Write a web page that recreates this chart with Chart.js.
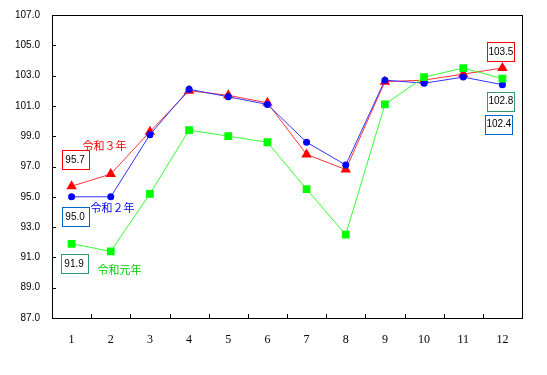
<!DOCTYPE html>
<html>
<head>
<meta charset="utf-8">
<script src="https://cdn.jsdelivr.net/npm/chart.js@4"></script>
<style>
  html, body { margin: 0; padding: 0; background: #fff; }
  #wrap { width: 547px; height: 375px; }
</style>
</head>
<body>
<div id="wrap"><canvas id="chart" width="547" height="375"></canvas></div>
<script>
// Monthly index values
const months = ['1', '2', '3', '4', '5', '6', '7', '8', '9', '10', '11', '12'];
const reiwa3 = [95.7, 96.5, 99.3, 102.0, 101.7, 101.2, 97.8, 96.8, 102.6, 102.7, 103.1, 103.5];
const reiwa2 = [95.0, 95.0, 99.1, 102.1, 101.6, 101.1, 98.6, 97.1, 102.7, 102.5, 102.9, 102.4];
const reiwa1 = [91.9, 91.4, 95.2, 99.4, 99.0, 98.6, 95.5, 92.5, 101.1, 102.9, 103.5, 102.8];
const yTicks = [87, 89, 91, 93, 95, 97, 99, 101, 103, 105, 107];

// value boxes and series names, offset in px from their point
const valueBoxes = [
  { data: reiwa3, i: 0, dx: 3, dy: -27, border: '#FF0000' },
  { data: reiwa2, i: 0, dx: 3, dy: 19, border: '#0066CC' },
  { data: reiwa1, i: 0, dx: 2, dy: 19, border: '#339966' },
  { data: reiwa3, i: 11, dx: -2, dy: -17, border: '#FF0000' },
  { data: reiwa1, i: 11, dx: -2, dy: 22, border: '#339966' },
  { data: reiwa2, i: 11, dx: -4, dy: 39, border: '#0066CC' },
];
const seriesNames = [
  { text: '令和３年', data: reiwa3, i: 0, dx: 11, dy: -40, color: '#FF0000' },
  { text: '令和２年', data: reiwa2, i: 0, dx: 19, dy: 11, color: '#0000FF' },
  { text: '令和元年', data: reiwa1, i: 0, dx: 26, dy: 26, color: '#00CC00' },
];

const annotate = {
  id: 'annotate',
  afterDraw(chart) {
    const { ctx, chartArea: a, scales: { x, y } } = chart;
    ctx.save();
    // frame
    ctx.strokeStyle = '#000';
    ctx.lineWidth = 1;
    ctx.strokeRect(Math.round(a.left) + 0.5, Math.round(a.top) + 0.5,
      Math.round(a.right - a.left), Math.round(a.bottom - a.top));
    // inward ticks
    ctx.beginPath();
    yTicks.forEach(v => {
      const py = Math.round(y.getPixelForValue(v)) + 0.5;
      ctx.moveTo(a.left, py); ctx.lineTo(a.left + 4, py);
    });
    for (let i = 1; i < months.length; i++) {
      const px = Math.round((x.getPixelForValue(i - 1) + x.getPixelForValue(i)) / 2) + 0.5;
      ctx.moveTo(px, a.bottom); ctx.lineTo(px, a.bottom - 4);
    }
    ctx.stroke();

    // value boxes
    ctx.font = '10px "Liberation Sans", Arial, sans-serif';
    ctx.textAlign = 'center';
    ctx.textBaseline = 'middle';
    valueBoxes.forEach(b => {
      const cx = x.getPixelForValue(b.i) + b.dx;
      const cy = y.getPixelForValue(b.data[b.i]) + b.dy;
      ctx.fillStyle = '#fff';
      ctx.fillRect(cx - 13, cy - 9, 27, 19);
      ctx.strokeStyle = b.border;
      ctx.strokeRect(Math.round(cx - 13) + 0.5, Math.round(cy - 9) + 0.5, 27, 19);
      ctx.fillStyle = '#000';
      ctx.fillText(b.data[b.i].toFixed(1), cx + 0.5, cy + 1);
    });

    // series names
    ctx.font = '11px "Noto Sans CJK JP", sans-serif';
    ctx.textAlign = 'left';
    seriesNames.forEach(s => {
      ctx.fillStyle = s.color;
      ctx.fillText(s.text, x.getPixelForValue(s.i) + s.dx, y.getPixelForValue(s.data[s.i]) + s.dy);
    });
    ctx.restore();
  }
};

new Chart(document.getElementById('chart'), {
  type: 'line',
  data: {
    labels: months,
    datasets: [
      {
        label: '令和元年', data: reiwa1,
        borderColor: '#33FF33', backgroundColor: '#00FF00', borderWidth: 1,
        pointStyle: 'rect', pointRadius: 5.5, pointBorderWidth: 0, pointBackgroundColor: '#00FF00',
      },
      {
        label: '令和２年', data: reiwa2,
        borderColor: '#3333FF', backgroundColor: '#0000FF', borderWidth: 1,
        pointStyle: 'circle', pointRadius: 3.5, pointBorderWidth: 0, pointBackgroundColor: '#0000FF',
      },
      {
        label: '令和３年', data: reiwa3,
        borderColor: '#FF3333', backgroundColor: '#FF0000', borderWidth: 1,
        pointStyle: 'triangle', pointRadius: 6, pointBorderWidth: 0, pointBackgroundColor: '#FF0000',
      },
    ]
  },
  options: {
    responsive: false,
    animation: false,
    layout: { padding: { top: 15, right: 25, left: 0, bottom: 0 } },
    plugins: { legend: { display: false }, tooltip: { enabled: false } },
    scales: {
      x: {
        offset: true,
        grid: { display: false, drawTicks: false },
        border: { display: false },
        ticks: { padding: 15, color: '#000', font: { family: '"Liberation Serif", serif', size: 12 } },
        afterFit(scale) { scale.height = 57; }
      },
      y: {
        min: 87, max: 107,
        grid: { display: false, drawTicks: false },
        border: { display: false },
        afterBuildTicks(scale) { scale.ticks = yTicks.map(v => ({ value: v })); },
        ticks: {
          padding: 12, color: '#000',
          font: { family: '"Liberation Sans", Arial, sans-serif', size: 10 },
          callback: v => Number(v).toFixed(1)
        },
        afterFit(scale) {
          scale.width = 52;
          scale.paddingTop = 0;
          scale.paddingBottom = 0;
        }
      }
    }
  },
  plugins: [annotate]
});
</script>
</body>
</html>
